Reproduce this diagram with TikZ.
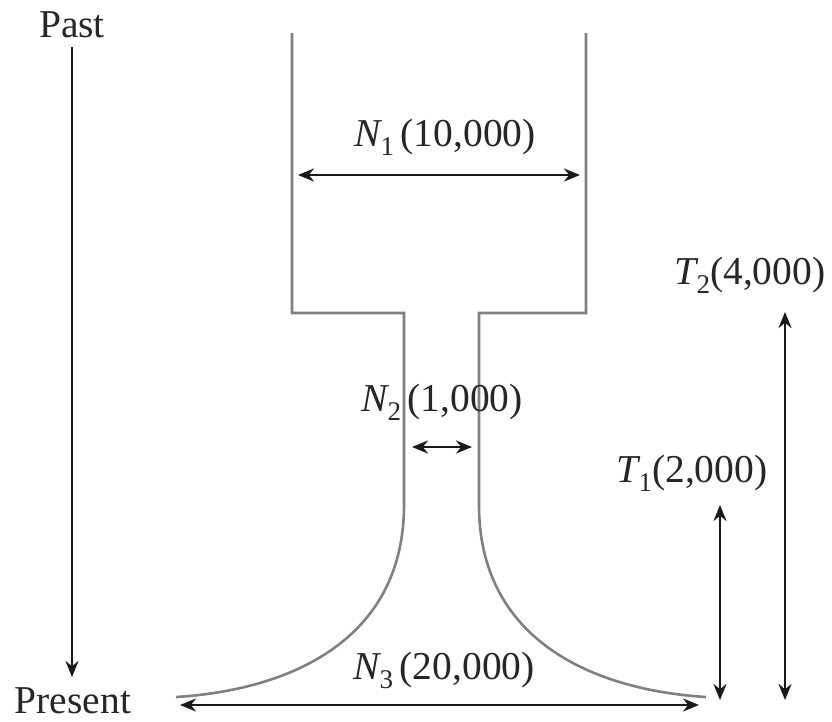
\documentclass[tikz,border=0pt]{standalone}
\usepackage{fontspec}
\setmainfont{Liberation Serif}
\usetikzlibrary{arrows.meta}
\newcommand{\lblsub}[2]{{\itshape #1}\raisebox{-0.5ex}{\fontsize{27}{27}\selectfont #2}}
\begin{document}
\begin{tikzpicture}[x=1pt,y=-1pt,
  outline/.style={draw=black!50, line width=2.6pt},
  dim/.style={draw=black!90, line width=2.9pt, {Stealth[length=16pt,width=13pt]}-{Stealth[length=16pt,width=13pt]}},
  oneway/.style={draw=black!90, line width=2.9pt, -{Stealth[length=16pt,width=13pt]}},
  lbl/.style={inner sep=0pt, font=\fontsize{39.5}{42}\selectfont, text=black!85}]
\useasboundingbox (0,0) rectangle (832,721);
% outline of population history
\draw[outline] (292,33) -- (292,313) -- (404,313) -- (404,505)
  .. controls (404,640) and (290,690) .. (176,697);
\draw[outline] (586,33) -- (586,313) -- (479,313) -- (479,505)
  .. controls (479,640) and (593,690) .. (706,697);
% labels
\node[lbl] (past) at (72,25) {Past};
\node[lbl] (present) at (73,701) {Present};
\node[lbl] (n1) at (445,137) {\lblsub{N}{1}\,(10,000)};
\node[lbl] (n2) at (442,402) {\lblsub{N}{2}\,(1,000)};
\node[lbl] (n3) at (444,670) {\lblsub{N}{3}\,(20,000)};
\node[lbl] (t2) at (750,275) {\lblsub{T}{2}(4,000)};
\node[lbl] (t1) at (692,473) {\lblsub{T}{1}(2,000)};
% arrow endpoints
\coordinate (timetop) at (72,47);
\coordinate (timebot) at (72,677);
\coordinate (n1l) at (298,175);
\coordinate (n1r) at (580,175);
\coordinate (n2l) at (412,447);
\coordinate (n2r) at (472,447);
\coordinate (n3l) at (180,705);
\coordinate (n3r) at (699,705);
\coordinate (t1top) at (720,505);
\coordinate (t1bot) at (720,700);
\coordinate (t2top) at (785,312);
\coordinate (t2bot) at (785,700);
% arrows
\draw[oneway] (timetop) -- (timebot);
\draw[dim] (n1l) -- (n1r);
\draw[dim] (n2l) -- (n2r);
\draw[dim] (n3l) -- (n3r);
\draw[dim] (t1top) -- (t1bot);
\draw[dim] (t2top) -- (t2bot);
\end{tikzpicture}
\end{document}
